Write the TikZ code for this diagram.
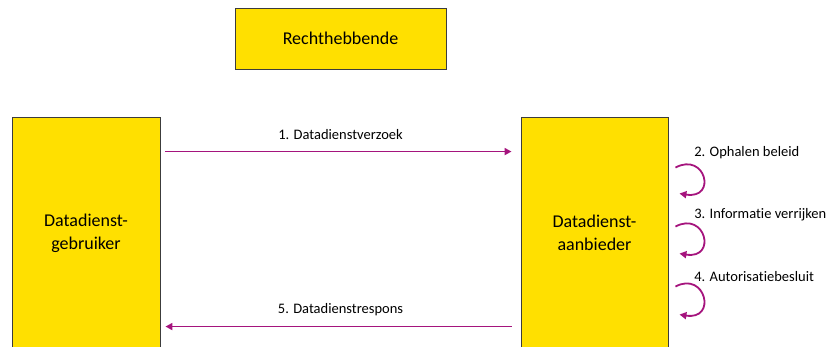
\documentclass[tikz,border=0pt]{standalone}
\usepackage{fontspec}
\setmainfont{Carlito}[Ligatures=NoCommon]
\usepackage{xcolor}
\usepackage{tikz}
\usetikzlibrary{positioning,arrows.meta}

\definecolor{geel}{RGB}{255,224,0}
\definecolor{paars}{RGB}{165,20,125}
\definecolor{rand}{RGB}{60,60,60}

\begin{document}
\begin{tikzpicture}[x=1pt,y=-1pt,
			box/.style={draw=rand, fill=geel, line width=0.9pt, rectangle, align=center, font=\fontsize{18}{23}\selectfont},
			arrow/.style={-{Triangle[length=7pt,width=7pt]}, draw=paars, line width=1.8pt},
			lbl/.style={font=\fontsize{14.5}{17}\selectfont, inner sep=0pt}]
			
			\useasboundingbox (0,0) rectangle (831,346);
			
			\node[box, minimum width=211pt, minimum height=61pt] (recht) at (340.5,38.5) {Rechthebbende};
			\node[box, minimum width=148pt, minimum height=232pt] (gebruiker) at (86,233) {Datadienst-\\gebruiker};
			\node[box, minimum width=147pt, minimum height=232pt] (aanbieder) at (594.5,233) {Datadienst-\\aanbieder};
			
			\draw[arrow, shorten <=5pt, shorten >=9pt] ([shift={(0,35)}]gebruiker.north east) -- ([shift={(0,35)}]aanbieder.north west)
				node[lbl, midway, above=11pt] {1. Datadienstverzoek};
			\draw[arrow, shorten <=9pt, shorten >=5pt] ([shift={(0,210)}]aanbieder.north west) -- ([shift={(0,210)}]gebruiker.north east)
				node[lbl, midway, above=10pt] {5. Datadienstrespons};
			
			\draw[arrow] ([shift={(7,51)}]aanbieder.north east) .. controls +(30,-16) and +(38,6) .. ([shift={(11,77)}]aanbieder.north east)
				node[lbl, at start, anchor=west, shift={(18,-15)}] {2. Ophalen beleid};
			\draw[arrow] ([shift={(7,110)}]aanbieder.north east) .. controls +(30,-16) and +(38,6) .. ([shift={(11,137)}]aanbieder.north east)
				node[lbl, at start, anchor=west, shift={(18,-12)}] {3. Informatie verrijken};
			\draw[arrow] ([shift={(7,170)}]aanbieder.north east) .. controls +(30,-16) and +(38,6) .. ([shift={(11,198)}]aanbieder.north east)
				node[lbl, at start, anchor=west, shift={(18,-10)}] {4. Autorisatiebesluit};
			
		\end{tikzpicture}
\end{document}
